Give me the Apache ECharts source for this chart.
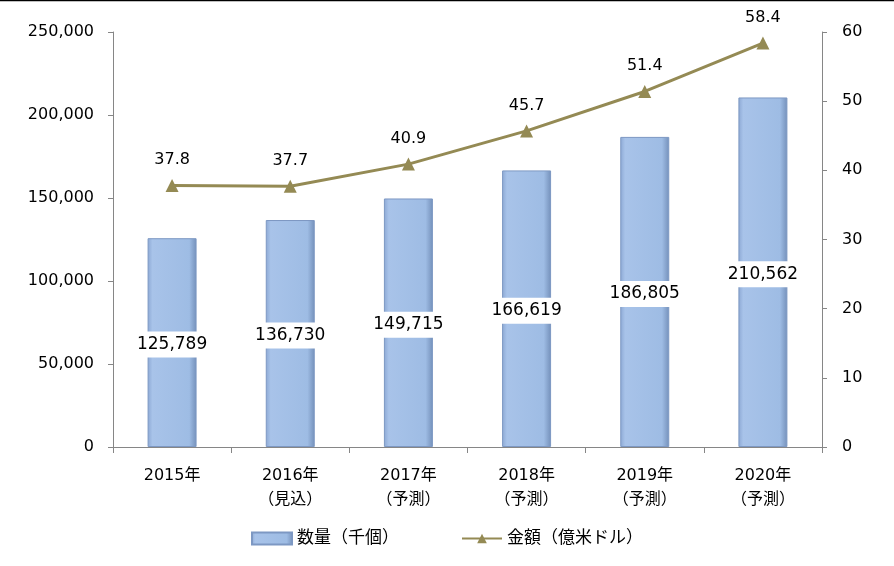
<!DOCTYPE html>
<html><head><meta charset="utf-8">
<script src="https://cdn.jsdelivr.net/npm/echarts@6/dist/echarts.min.js"></script>
<style>html,body{margin:0;padding:0;background:#fff}#c{width:894px;height:566px}</style>
</head><body><div id="c"></div>
<script>
const categories = ['2015年', '2016年\n（見込）', '2017年\n（予測）', '2018年\n（予測）', '2019年\n（予測）', '2020年\n（予測）'];
const quantity = [125789, 136730, 149715, 166619, 186805, 210562];
const amount = [37.8, 37.7, 40.9, 45.7, 51.4, 58.4];
const leftTicks = { min: 0, max: 250000, interval: 50000 };
const rightTicks = { min: 0, max: 60, interval: 10 };

const FONT = '"DejaVu Sans", "Noto Sans CJK JP", sans-serif';
const chart = echarts.init(document.getElementById('c'));
const barGrad = new echarts.graphic.LinearGradient(0, 0, 1, 0, [
  { offset: 0, color: '#8ca8d4' },
  { offset: 0.1, color: '#a8c3e9' },
  { offset: 0.85, color: '#9ebce4' },
  { offset: 1, color: '#7490ba' }
]);
chart.setOption({
  animation: false,
  textStyle: { fontFamily: FONT },
  grid: { left: 113, right: 72, top: 32, bottom: 119 },
  graphic: [{ type: 'line', shape: { x1: 0, y1: 0.5, x2: 894, y2: 0.5 }, style: { stroke: '#000', lineWidth: 1.5 } }],
  legend: {
    bottom: 14, left: 'center', itemGap: 62, itemWidth: 40, itemHeight: 12,
    textStyle: { fontSize: 17, color: '#000', fontFamily: FONT },
    data: [
      { name: '数量（千個）', icon: 'rect' },
      { name: '金額（億米ドル）' }
    ]
  },
  xAxis: {
    type: 'category', data: categories,
    axisLine: { lineStyle: { color: '#868686' } },
    axisTick: { show: true, length: 6, lineStyle: { color: '#868686' } },
    axisLabel: { fontSize: 16, color: '#000', lineHeight: 24, margin: 17, fontFamily: FONT }
  },
  yAxis: [
    {
      type: 'value', min: leftTicks.min, max: leftTicks.max, interval: leftTicks.interval,
      axisLine: { show: true, lineStyle: { color: '#868686' } },
      axisTick: { show: true, length: 5, lineStyle: { color: '#868686' } },
      splitLine: { show: false },
      axisLabel: { fontSize: 16, color: '#000', margin: 19, fontFamily: FONT,
        formatter: v => v.toLocaleString('en-US') }
    },
    {
      type: 'value', min: rightTicks.min, max: rightTicks.max, interval: rightTicks.interval,
      position: 'right',
      axisLine: { show: true, lineStyle: { color: '#868686' } },
      axisTick: { show: true, length: 5, lineStyle: { color: '#868686' } },
      splitLine: { show: false },
      axisLabel: { fontSize: 16, color: '#000', margin: 20, fontFamily: FONT }
    }
  ],
  series: [
    {
      name: '数量（千個）', type: 'bar', data: quantity, barWidth: 49, yAxisIndex: 0,
      itemStyle: { color: barGrad, borderColor: '#7d98c3', borderWidth: 1 },
      label: {
        show: true, position: 'inside', fontSize: 17, color: '#000', fontFamily: FONT,
        backgroundColor: '#fff', padding: [5, 2, 4, 2], offset: [0, 2],
        formatter: p => p.value.toLocaleString('en-US')
      }
    },
    {
      name: '金額（億米ドル）', type: 'line', data: amount, yAxisIndex: 1,
      symbol: 'triangle', symbolSize: 13,
      lineStyle: { color: '#948a54', width: 3 },
      itemStyle: { color: '#948a54' },
      label: { show: true, position: 'top', distance: 11, fontSize: 16, color: '#000', fontFamily: FONT,
        formatter: p => p.value.toFixed(1) }
    }
  ]
});
</script></body></html>
